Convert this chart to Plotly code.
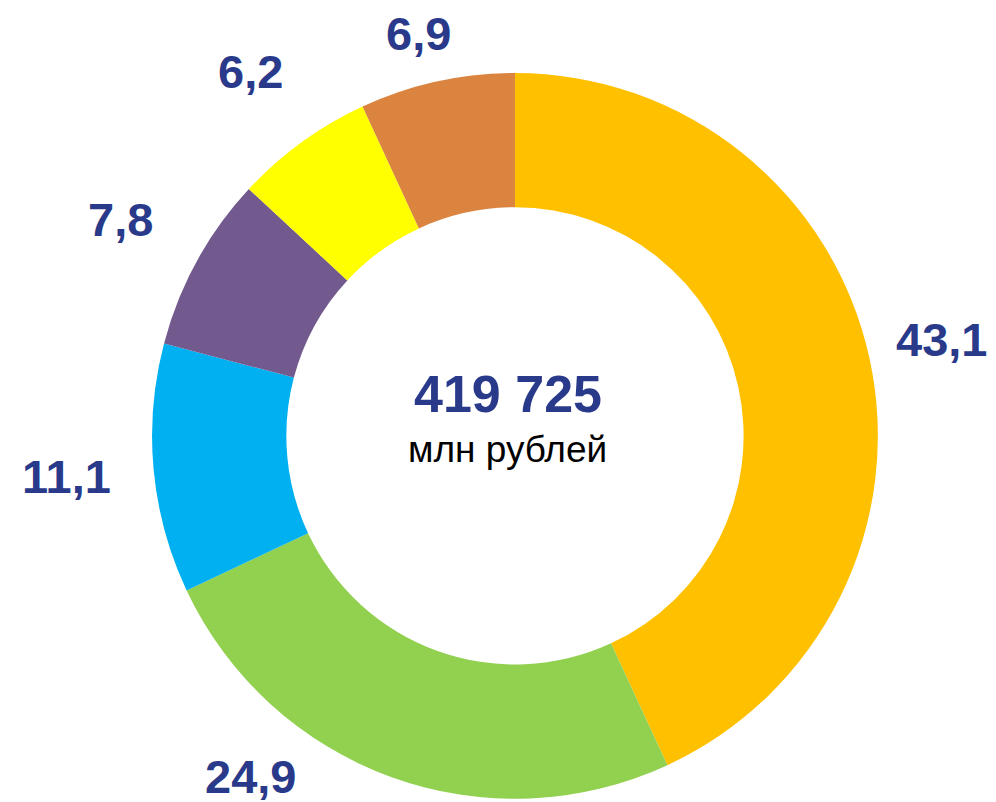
import math
import plotly.graph_objects as go

# shares, percent, clockwise from 12 o'clock
shares = [43.1, 24.9, 11.1, 7.8, 6.2, 6.9]
share_labels = ["43,1", "24,9", "11,1", "7,8", "6,2", "6,9"]
colors = ["#FFC000", "#92D050", "#00B0F0", "#725A8F", "#FFFF00", "#DA843F"]
total_value = "419 725"
total_unit = "млн рублей"

navy = "#293A8A"
W, H = 996, 802
dom_x, dom_y = [0.018, 1.0], [0.014, 0.919]
label_size = 47

fig = go.Figure(go.Pie(
    values=shares,
    textinfo="none",
    sort=False,
    direction="clockwise",
    rotation=0,
    hole=0.63,
    marker=dict(colors=colors, line=dict(width=0)),
    showlegend=False,
    domain=dict(x=dom_x, y=dom_y),
))

# outside labels: on a circle around the ring, at each slice's mid angle,
# kept inside the page and pushed sideways if they would sit on the ring
cx = (dom_x[0] + dom_x[1]) / 2 * W
cy = (1 - (dom_y[0] + dom_y[1]) / 2) * H
R = min((dom_x[1] - dom_x[0]) * W, (dom_y[1] - dom_y[0]) * H) / 2
L = R * 1.24
top_lim, bot_lim = cy - 26, -(H - 34 - cy)
total = sum(shares)
cum = 0
for v, lab in zip(shares, share_labels):
    ang = (cum + v / 2) / total * 2 * math.pi
    cum += v
    dx, dy = L * math.sin(ang), L * math.cos(ang)
    hw, hh = len(lab) * 0.49 * label_size / 2, 0.36 * label_size
    dy = max(min(dy, top_lim), bot_lim)
    dx = max(min(dx, W - 16 - cx - hw), 6 - cx + hw)
    sx, sy = math.copysign(1, dx), math.copysign(1, dy)
    ex, ey = dx - sx * hw, dy - sy * hh
    if math.hypot(ex, ey) < R + 10:
        dx = sx * (math.sqrt((R + 27) ** 2 - ey ** 2) + hw)
    fig.add_annotation(x=(cx + dx) / W, y=1 - (cy - dy) / H, xref="paper", yref="paper",
                       xanchor="center", yanchor="middle",
                       showarrow=False, text=f"<b>{lab}</b>",
                       font=dict(family="Liberation Sans, Arial", size=label_size, color=navy))

fig.add_annotation(x=0.502, y=0.519, xref="paper", yref="paper", showarrow=False,
                   xanchor="center", yanchor="middle",
                   text=f"<b>{total_value}</b>",
                   font=dict(family="Liberation Sans, Arial", size=52, color=navy))
fig.add_annotation(x=0.502, y=0.449, xref="paper", yref="paper", showarrow=False,
                   xanchor="center", yanchor="middle",
                   text=total_unit,
                   font=dict(family="Liberation Sans, Arial", size=37, color="black"))

fig.update_layout(width=W, height=H, margin=dict(l=0, r=0, t=0, b=0),
                  paper_bgcolor="white", plot_bgcolor="white")

fig.write_html("out.html")
